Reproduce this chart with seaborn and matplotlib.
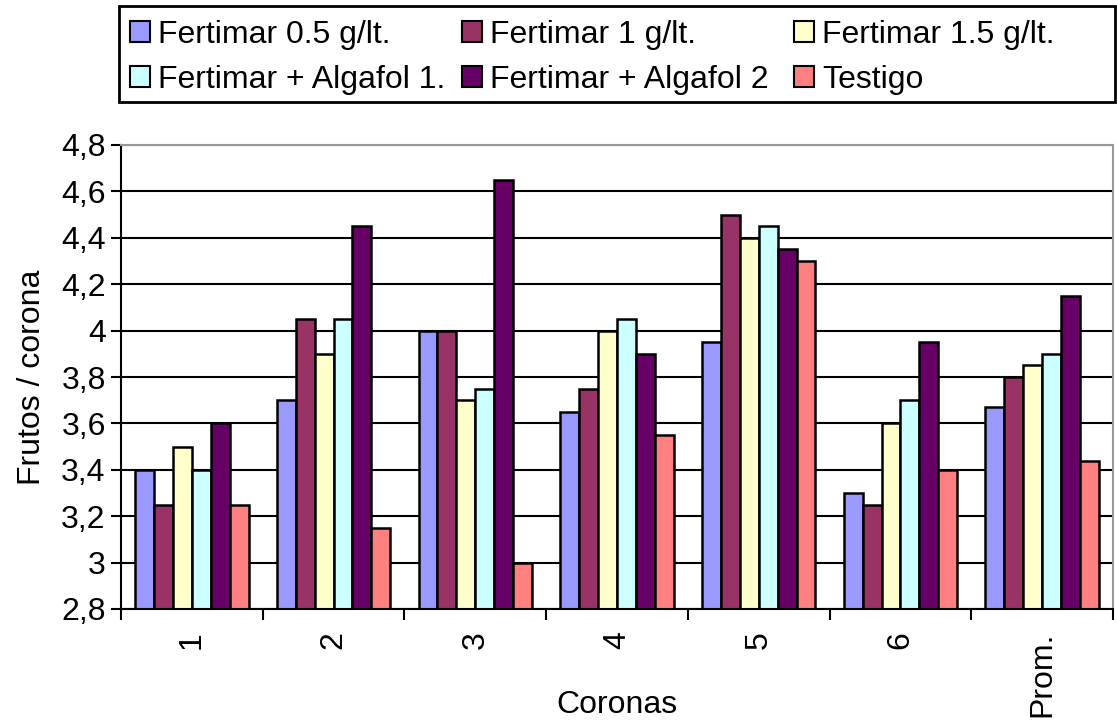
import matplotlib
matplotlib.use("Agg")
import matplotlib.pyplot as plt
import matplotlib.patches as mpatches
import seaborn as sns
import pandas as pd
import numpy as np

coronas = ["1", "2", "3", "4", "5", "6", "Prom."]
series = ["Fertimar 0.5 g/lt.", "Fertimar 1 g/lt.", "Fertimar 1.5 g/lt.",
          "Fertimar + Algafol 1.", "Fertimar + Algafol 2", "Testigo"]
fert_05 = [3.4, 3.7, 4.0, 3.65, 3.95, 3.3, 3.67]
fert_1 = [3.25, 4.05, 4.0, 3.75, 4.5, 3.25, 3.8]
fert_15 = [3.5, 3.9, 3.7, 4.0, 4.4, 3.6, 3.85]
algafol_1 = [3.4, 4.05, 3.75, 4.05, 4.45, 3.7, 3.9]
algafol_2 = [3.6, 4.45, 4.65, 3.9, 4.35, 3.95, 4.15]
testigo = [3.25, 3.15, 3.0, 3.55, 4.3, 3.4, 3.44]
colors = ["#9999FF", "#993366", "#FFFFCC", "#CCFFFF", "#660066", "#FF8080"]
y_ticks = [2.8, 3.0, 3.2, 3.4, 3.6, 3.8, 4.0, 4.2, 4.4, 4.6, 4.8]

rows = []
for name, vals in zip(series, [fert_05, fert_1, fert_15, algafol_1, algafol_2, testigo]):
    for c, v in zip(coronas, vals):
        rows.append({"Corona": c, "Serie": name, "Valor": v})
df = pd.DataFrame(rows)

sns.set_style("white")
plt.rcParams["font.family"] = ["Liberation Sans", "DejaVu Sans"]
plt.rcParams["text.color"] = "black"
plt.rcParams["axes.labelcolor"] = "black"
plt.rcParams["xtick.color"] = "black"
plt.rcParams["ytick.color"] = "black"

FS = 23
W, H = 1117, 722

fig = plt.figure(figsize=(W / 100, H / 100), dpi=100)
ax = fig.add_axes([121 / W, 1 - 609 / H, (1113 - 121) / W, (609 - 145) / H])

sns.barplot(data=df, x="Corona", y="Valor", hue="Serie", hue_order=series,
            palette=colors, edgecolor="black", linewidth=1.8, saturation=1,
            width=0.8, ax=ax, legend=False)

ax.set_ylim(2.8, 4.8)
ax.set_xlim(-0.5, len(coronas) - 0.5)
ax.set_yticks(y_ticks)
ax.set_yticklabels([f"{v:g}".replace(".", ",") for v in y_ticks], fontsize=FS)
ax.yaxis.grid(True, color="black", linewidth=1.5)
ax.set_axisbelow(True)

# ticks at group boundaries, labels at group centres
ax.set_xticks(np.arange(len(coronas) + 1) - 0.5)
ax.set_xticklabels([])
ax.set_xticks(np.arange(len(coronas)), minor=True)
ax.set_xticklabels(coronas, minor=True, rotation=90, fontsize=FS)
ax.tick_params(axis="x", which="major", length=8, width=1.5, direction="out", bottom=True)
ax.tick_params(axis="x", which="minor", length=0, pad=16)
ax.tick_params(axis="y", length=7, width=1.5, direction="out", left=True, pad=4)

for side in ["left", "bottom"]:
    ax.spines[side].set_color("black")
    ax.spines[side].set_linewidth(1.5)
for side in ["top", "right"]:
    ax.spines[side].set_visible(True)
    ax.spines[side].set_color("#999999")
    ax.spines[side].set_linewidth(1.5)

ax.set_xlabel("Coronas", fontsize=FS)
ax.xaxis.set_label_coords(0.5, (609 - 690) / 464)
ax.set_ylabel("Frutos / corona", fontsize=FS, labelpad=10)

# legend box: two rows of three entries
fig.patches.append(mpatches.Rectangle((119 / W, 1 - 102 / H), 996 / W, 96 / H,
                                      transform=fig.transFigure, facecolor="white",
                                      edgecolor="black", linewidth=2))
entry_pos = [(130, 35), (462, 35), (794, 35), (130, 80), (462, 80), (794, 80)]
for (x, y), name, col in zip(entry_pos, series, colors):
    h = mpatches.Rectangle((0, 0), 1, 1, facecolor=col, edgecolor="black", linewidth=1.5)
    fig.legend([h], [name], loc="center left", bbox_to_anchor=(x / W, 1 - y / H),
               fontsize=FS, frameon=False, handlelength=0.62, handleheight=0.62,
               handletextpad=0.25, borderpad=0.0, borderaxespad=0.0)

fig.savefig("out.png", dpi=100)
